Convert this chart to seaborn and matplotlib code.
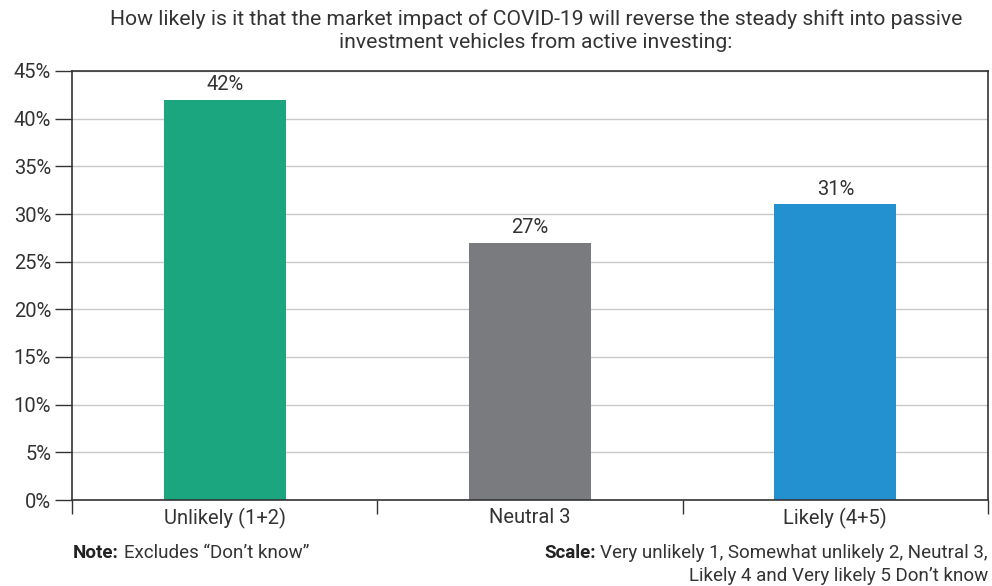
import matplotlib
matplotlib.use("Agg")
import matplotlib.pyplot as plt
import seaborn as sns
import pandas as pd
from matplotlib.ticker import FixedLocator, PercentFormatter

categories = ["Unlikely (1+2)", "Neutral 3", "Likely (4+5)"]
values = [42, 27, 31]
colors = ["#1BA680", "#7A7B7E", "#2390D0"]
yticks = [0, 5, 10, 15, 20, 25, 30, 35, 40, 45]
title = "How likely is it that the market impact of COVID-19 will reverse the steady shift into passive\ninvestment vehicles from active investing:"

sns.set_theme(style="white")
plt.rcParams['font.family'] = ['Roboto', 'DejaVu Sans']

df = pd.DataFrame({"cat": categories, "val": values})
fig = plt.figure(figsize=(9.92, 5.86), dpi=100)
ax = fig.add_axes([72/992, 1-500/586, (988-72)/992, (500-71)/586])
sns.barplot(data=df, x="cat", y="val", hue="cat", palette=colors, width=0.4,
            ax=ax, legend=False, saturation=1, linewidth=0)

ax.set_ylim(0, 45)
ax.set_xlim(-0.5, 2.5)
ax.set_yticks(yticks)
ax.yaxis.set_major_formatter(PercentFormatter(decimals=0))
ax.yaxis.grid(True, color="#C8C8C8", linewidth=1)
ax.set_axisbelow(True)
ax.set_xlabel("")
ax.set_ylabel("")
for s in ax.spines.values():
    s.set_visible(True)
    s.set_color("#333333")
    s.set_linewidth(1.2)
ax.tick_params(axis="y", direction="out", length=12, width=1, color="#333333",
               labelsize=14.5, labelcolor="#333333", pad=3, left=True)
ax.tick_params(axis="x", which="major", length=0, labelsize=14.5, labelcolor="#333333", pad=6)
ax.xaxis.set_minor_locator(FixedLocator([-0.5, 0.5, 1.5, 2.5]))
ax.tick_params(axis="x", which="minor", direction="out", length=10, width=1,
               color="#333333", bottom=True)

for c in ax.containers:
    ax.bar_label(c, labels=[f"{v:.0f}%" for v in c.datavalues], padding=4,
                 fontsize=14.5, color="#333333")

fig.text(536/992, 1-9/586, title, ha="center", va="top", fontsize=15.2,
         color="#333333", linespacing=1.25)

renderer = fig.canvas.get_renderer()
fs = 13.5
y1 = 1-553/586
y2 = 1-576/586

note_b = fig.text(73/992, y1, "Note:", ha="left", va="center", fontsize=fs,
                  color="#222222", fontweight="bold")
bb = note_b.get_window_extent(renderer)
fig.text((bb.x1 + 5)/992, y1, "Excludes \u201cDon\u2019t know\u201d", ha="left", va="center",
         fontsize=fs, color="#333333")

s1 = fig.text(988/992, y1, "Very unlikely 1, Somewhat unlikely 2, Neutral 3,",
              ha="right", va="center", fontsize=fs, color="#333333")
bb = s1.get_window_extent(renderer)
fig.text((bb.x0 - 5)/992, y1, "Scale:", ha="right", va="center", fontsize=fs,
         color="#222222", fontweight="bold")
fig.text(988/992, y2, "Likely 4 and Very likely 5 Don\u2019t know",
         ha="right", va="center", fontsize=fs, color="#333333")

fig.savefig("out.png", dpi=100)
